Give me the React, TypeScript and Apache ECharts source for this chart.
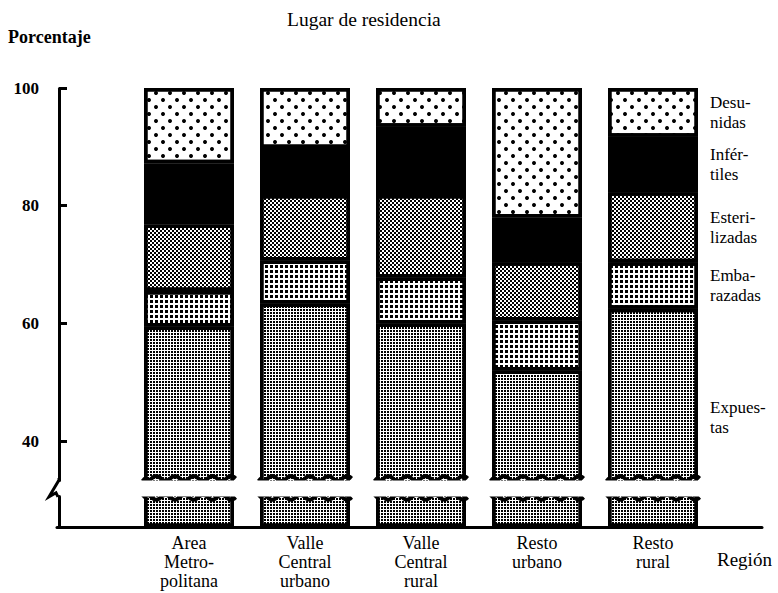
import React, { useEffect, useRef } from 'react';
import * as echarts from 'echarts';

const categories = ['Area\nMetro-\npolitana', 'Valle\nCentral\nurbano', 'Valle\nCentral\nrural', 'Resto\nurbano', 'Resto\nrural'];
const expuestas = [59.5, 63.4, 60.0, 52.0, 62.5];
const embarazadas = [6.0, 7.3, 7.8, 8.5, 7.9];
const esterilizadas = [11.3, 11.1, 14.0, 9.9, 11.9];
const infertiles = [10.4, 8.0, 11.6, 7.6, 9.4];
const desunidas = [12.8, 10.2, 6.6, 22.0, 8.3];
const seriesLabels = ['Expues-\ntas', 'Emba-\nrazadas', 'Esteri-\nlizadas', 'Infér-\ntiles', 'Desu-\nnidas'];
const yTickLabels = [40, 60, 80, 100];
const breakStart = 5.3;
const breakEnd = 33.4;

const FONT = '"Liberation Serif", "DejaVu Serif", serif';
const BAR_W = 90;
const Y_OFFSET = 72;
const BORDER = 3.5;

const decals: any[] = [
  { symbol: 'rect', symbolSize: 1, color: '#000', backgroundColor: '#fff', dashArrayX: [2, 1], dashArrayY: [2, 1] },
  { symbol: 'rect', symbolSize: 1, color: '#000', backgroundColor: '#fff', dashArrayX: [3, 1.5], dashArrayY: [3, 1.5] },
  { symbol: 'rect', symbolSize: 1, color: '#000', backgroundColor: '#fff', dashArrayX: [[2, 2], [0, 2, 2, 0]], dashArrayY: [2, 0] },
  null,
  { symbol: 'circle', symbolSize: 1, color: '#000', backgroundColor: '#fff', dashArrayX: [[4, 10], [0, 7, 4, 3]], dashArrayY: [4, 3] },
];
const fills = ['#fff', '#fff', '#fff', '#000', '#fff'];

function wavePoints(x0: number, x1: number, y: number, amp: number, waves: number) {
  const pts: number[][] = [];
  const n = 60;
  for (let k = 0; k <= n; k++) {
    const t = k / n;
    pts.push([x0 + (x1 - x0) * t, y + amp * Math.sin(t * waves * 2 * Math.PI)]);
  }
  return pts;
}

export default function App() {
  const ref = useRef<HTMLDivElement>(null);
  useEffect(() => {
    if (!ref.current) return;
    const chart = echarts.init(ref.current, null, { renderer: 'svg' });
    const data = [expuestas, embarazadas, esterilizadas, infertiles, desunidas];
    const series: any[] = data.map((arr, si) => ({
      type: 'bar',
      name: seriesLabels[si],
      stack: 'total',
      xAxisIndex: 0,
      yAxisIndex: 0,
      barWidth: BAR_W,
      itemStyle: {
        color: fills[si],
        borderColor: '#000',
        borderWidth: BORDER,
        ...(decals[si] ? { decal: decals[si] } : {}),
      },
      data: arr.map((v, i) =>
        i === arr.length - 1
          ? {
              value: v,
              label: {
                show: true,
                position: 'right',
                distance: 12,
                formatter: seriesLabels[si],
                align: 'left',
                fontFamily: FONT,
                fontSize: 17,
                lineHeight: 20,
                color: '#000',
              },
            }
          : v
      ),
    }));
    // wavy edges of the bars at the axis break
    series.push({
      type: 'custom',
      xAxisIndex: 0,
      yAxisIndex: 0,
      z: 50,
      clip: false,
      silent: true,
      data: categories.map((_, i) => [i, breakEnd, breakStart]),
      renderItem: (params: any, api: any) => {
        const i = api.value(0);
        const top = api.coord([i, api.value(1)]);
        const bot = api.coord([i, api.value(2)]);
        const x0 = top[0] - BAR_W / 2 - BORDER / 2;
        const x1 = top[0] + BAR_W / 2 + BORDER / 2;
        return {
          type: 'group',
          children: [
            { type: 'polyline', shape: { points: wavePoints(x0, x1, top[1] - 1.5, 2.5, 5) }, style: { stroke: '#000', lineWidth: 4, fill: null } },
            { type: 'polyline', shape: { points: wavePoints(x0, x1, bot[1] + 1.5, -2.5, 5) }, style: { stroke: '#000', lineWidth: 4, fill: null } },
          ],
        };
      },
    });
    // zigzag mark on the y axis at the break
    series.push({
      type: 'custom',
      xAxisIndex: 0,
      yAxisIndex: 0,
      z: 50,
      clip: false,
      silent: true,
      data: [[0, breakEnd, breakStart]],
      renderItem: (params: any, api: any) => {
        const top = api.coord([0, api.value(1)]);
        const bot = api.coord([0, api.value(2)]);
        const band = api.size([1, 0])[0];
        const ax = top[0] - band / 2 - Y_OFFSET;
        return {
          type: 'polyline',
          shape: {
            points: [
              [ax, top[1] - 2],
              [ax, top[1]],
              [ax - 10, bot[1] + 1],
              [ax - 3, bot[1] - 3],
              [ax - 1, bot[1] + 1],
            ],
          },
          style: { stroke: '#000', lineWidth: 3, fill: null, lineJoin: 'miter' },
        };
      },
    });
    chart.setOption({
      animation: false,
      title: [
        { text: 'Lugar de residencia', left: 282, top: 4, textStyle: { fontFamily: FONT, fontSize: 19.5, fontWeight: 'normal', color: '#000' } },
        { text: 'Porcentaje', left: 3, top: 23, textStyle: { fontFamily: FONT, fontSize: 18, fontWeight: 'bold', color: '#000' } },
        { text: 'Región', left: 712, top: 545, textStyle: { fontFamily: FONT, fontSize: 19, fontWeight: 'normal', color: '#000' } },
      ],
      grid: [
        { left: 131, right: 67, top: 88, bottom: 66 },
        { left: 57, right: 16, top: 88, bottom: 66 },
      ],
      xAxis: [
        {
          type: 'category',
          gridIndex: 0,
          data: categories,
          axisLine: { show: false },
          axisTick: { show: false },
          axisLabel: { margin: 6, fontFamily: FONT, fontSize: 18, lineHeight: 19, color: '#000' },
        },
        {
          type: 'value',
          gridIndex: 1,
          min: 0,
          max: 1,
          axisLine: { show: true, lineStyle: { color: '#000', width: 3 } },
          axisTick: { show: false },
          axisLabel: { show: false },
          splitLine: { show: false },
        },
      ],
      yAxis: [
        {
          type: 'value',
          gridIndex: 0,
          min: 0,
          max: 100,
          interval: 20,
          offset: Y_OFFSET,
          breaks: [{ start: breakStart, end: breakEnd, gap: '3.6%' }],
          breakArea: {
            show: true,
            itemStyle: { color: '#fff', borderColor: '#fff', borderWidth: 0, opacity: 1 },
            zigzagAmplitude: 0,
            zigzagMinSpan: 8,
            zigzagMaxSpan: 14,
            expandOnClick: false,
          },
          axisLine: { show: true, lineStyle: { color: '#000', width: 3 } },
          axisTick: { show: true, inside: true, length: 8, customValues: yTickLabels, lineStyle: { color: '#000', width: 3 } },
          axisLabel: {
            margin: 20,
            fontFamily: FONT,
            fontSize: 17,
            fontWeight: 'bold',
            color: '#000',
            customValues: yTickLabels,
          },
          splitLine: { show: false },
        },
        { type: 'value', gridIndex: 1, show: false },
      ],
      series,
    });
    return () => chart.dispose();
  }, []);
  return <div ref={ref} style={{ width: 778, height: 593, position: 'absolute', left: 0, top: 0 }} />;
}
